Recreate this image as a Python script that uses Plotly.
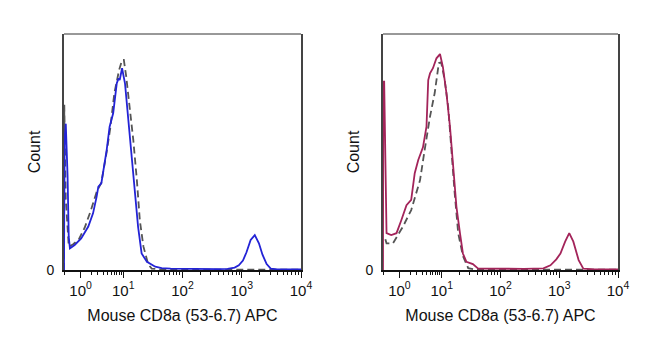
import plotly.graph_objects as go
import math

# x values in display decades of the (biexponential-like) FlowJo axis; y = % of max count
iso_left_x = [0, 0.005, 0.03, 0.08, 0.15, 0.25, 0.35, 0.45, 0.55, 0.63, 0.72, 0.78, 0.85, 0.93, 0.98, 1.01, 1.05,
              1.11, 1.17, 1.23, 1.28, 1.34, 1.42, 1.48, 1.6, 1.8, 2.2, 2.8, 3.4, 4.0]
iso_left_y = [0, 70, 30, 10, 10.8, 13, 18, 25, 33, 37, 50, 60, 75, 84.7, 89, 89, 82,
              69, 55, 38, 21, 10, 2.5, 0.6, 0.3, 0.2, 0.2, 0.2, 0.2, 0.2]

cd8_left_x = [0.0, 0.01, 0.03, 0.06, 0.08, 0.10, 0.18, 0.29, 0.41, 0.49, 0.55, 0.58, 0.63, 0.72, 0.77, 0.83,
              0.89, 0.92, 0.94, 0.98, 1.03, 1.08, 1.14, 1.20, 1.25, 1.31, 1.40, 1.54, 1.65, 1.80, 2.2, 2.6,
              2.76, 2.88, 2.95, 3.02, 3.08, 3.15, 3.22, 3.29, 3.35, 3.42, 3.49, 3.6, 4.0]
cd8_left_y = [0, 55, 62, 40, 14, 9.2, 10.6, 13.4, 18.4, 24, 31, 35.3, 36.7, 50.8, 60.7, 66.4,
              79, 81.2, 80.5, 85.5, 79, 65, 48, 32.5, 18.4, 7, 3.5, 1.4, 0.8, 0.6, 0.4, 0.4,
              0.5, 1.0, 2.0, 4.0, 7.5, 12.7, 14.8, 11.3, 6.5, 2.5, 0.6, 0.3, 0.3]

iso_right_x = [0.04, 0.06, 0.17, 0.34, 0.48, 0.63, 0.71, 0.80, 0.88, 0.95, 0.99, 1.05, 1.11, 1.16, 1.22, 1.28,
               1.36, 1.45, 1.55, 1.8, 2.4, 3.0, 4.0]
iso_right_y = [13, 11.3, 11.3, 18.4, 25.4, 38, 51, 65, 75, 87.6, 88, 80.5, 69, 52, 32.5, 15.6,
               6, 0.8, 0.3, 0.2, 0.2, 0.2, 0.2]

cd8_right_x = [0, 0.005, 0.02, 0.04, 0.06, 0.14, 0.23, 0.31, 0.40, 0.48, 0.54, 0.60, 0.68, 0.74, 0.77, 0.80,
               0.85, 0.91, 0.97, 1.02, 1.08, 1.14, 1.19, 1.25, 1.31, 1.36, 1.42, 1.53, 1.62, 2.0, 2.4, 2.73,
               2.85, 2.95, 3.02, 3.10, 3.17, 3.24, 3.33, 3.41, 3.6, 4.0]
cd8_right_y = [0, 79.8, 79.8, 50, 15.6, 14.8, 15.6, 21, 27.5, 29.7, 41, 46.6, 52, 60.7, 80.5, 83.3,
               85.5, 89.7, 91.5, 86, 74.9, 60.7, 43.8, 26.8, 15.6, 7, 3.5, 2.5, 0.6, 0.5, 0.5, 0.7,
               2, 4.5, 7, 12, 15.6, 12, 4.2, 0.6, 0.3, 0.3]

tick_vals = [0.28, 1, 2, 3, 4]
tick_text = ["10<sup>0</sup>", "10<sup>1</sup>", "10<sup>2</sup>", "10<sup>3</sup>", "10<sup>4</sup>"]
first_decade_minor = [0, 0.46, 0.57, 0.67, 0.74, 0.80, 0.85, 0.89, 0.93, 0.97]
minor_vals = first_decade_minor + [d + math.log10(k) for d in (1, 2, 3) for k in range(2, 10)]

x_title = "Mouse CD8a (53-6.7) APC"
y_title = "Count"

FONT = "Liberation Sans, Arial, sans-serif"
fig = go.Figure()

dash = dict(color="#555555", width=1.8, dash="7px,4px")
fig.add_trace(go.Scatter(x=iso_left_x, y=iso_left_y, mode="lines", line=dash, xaxis="x", yaxis="y"))
fig.add_trace(go.Scatter(x=cd8_left_x, y=cd8_left_y, mode="lines", line=dict(color="#2323d6", width=1.8),
                         xaxis="x", yaxis="y"))
fig.add_trace(go.Scatter(x=iso_right_x, y=iso_right_y, mode="lines", line=dash, xaxis="x2", yaxis="y2"))
fig.add_trace(go.Scatter(x=cd8_right_x, y=cd8_right_y, mode="lines", line=dict(color="#a3245a", width=1.8),
                         xaxis="x2", yaxis="y2"))

W, H = 650, 357
OFF = 8  # page body margin
ydom = [1 - (270 - OFF) / H, 1 - (34 - OFF) / H]

def xaxis(dom, anchor):
    return dict(domain=dom, anchor=anchor, range=[0, 4], showgrid=False, zeroline=False, automargin=False,
                showline=True, linecolor="#111111", linewidth=1.5, mirror=False,
                ticks="outside", ticklen=6, tickwidth=1, tickcolor="#111111",
                tickmode="array", tickvals=tick_vals, ticktext=tick_text,
                minor=dict(tickmode="array", tickvals=minor_vals, ticks="outside", ticklen=3,
                           tickcolor="#111111", tickwidth=1),
                tickfont=dict(family=FONT, size=15, color="#111111"),
                title=dict(text=x_title, font=dict(family=FONT, size=16, color="#111111"), standoff=12))

def yaxis(anchor):
    return dict(domain=ydom, anchor=anchor, range=[0, 100], showgrid=False, zeroline=False, automargin=False,
                showline=True, linecolor="#444444", linewidth=2, mirror=True,
                ticks="", tickmode="array", tickvals=[0], ticktext=["0"], ticklabelstandoff=5,
                tickfont=dict(family=FONT, size=14, color="#111111"),
                title=dict(text=y_title, font=dict(family=FONT, size=16, color="#111111"), standoff=2))

fig.update_layout(
    width=W, height=H, margin=dict(l=0, r=0, t=0, b=0),
    paper_bgcolor="white", plot_bgcolor="white", showlegend=False,
    xaxis=xaxis([(64 - OFF) / W, (301 - OFF) / W], "y"),
    yaxis=yaxis("x"),
    xaxis2=xaxis([(383 - OFF) / W, (618 - OFF) / W], "y2"),
    yaxis2=yaxis("x2"),
)
for xr in ("x domain", "x2 domain"):
    fig.add_shape(type="line", xref=xr, yref="y domain", x0=0, x1=1, y0=1, y1=1,
                  line=dict(color="#333333", width=1))

fig.write_html("out.html")
